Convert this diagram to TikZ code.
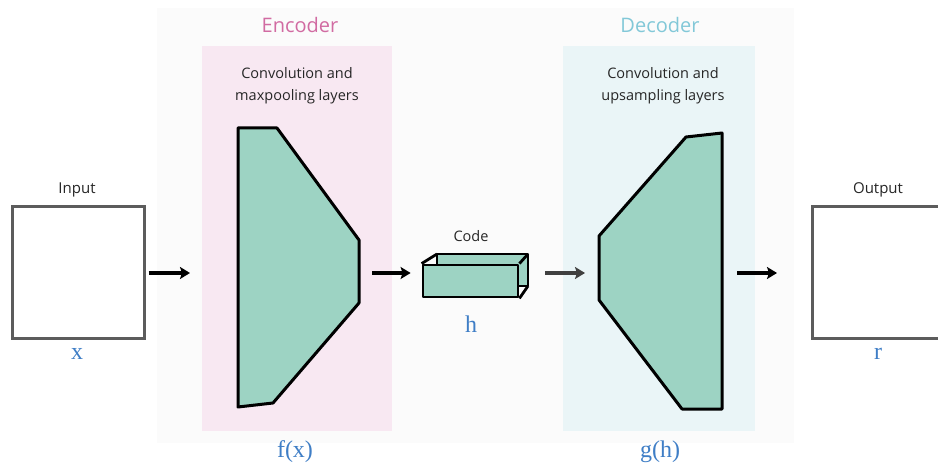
\documentclass[tikz,border=0pt]{standalone}
\usepackage{fontspec}
\setsansfont{Open Sans}
\newfontfamily\varfont{Liberation Serif}
\usetikzlibrary{arrows.meta,positioning}
\definecolor{layerfill}{HTML}{9DD3C3}
\definecolor{encbg}{HTML}{F8E8F2}
\definecolor{decbg}{HTML}{EAF5F7}
\definecolor{outerbg}{HTML}{FBFBFB}
\definecolor{enccol}{HTML}{D16BA2}
\definecolor{deccol}{HTML}{82C8D8}
\definecolor{varblue}{HTML}{3F7EC6}
\definecolor{boxgray}{HTML}{5C5C5C}

\begin{document}
\begin{tikzpicture}[x=1pt, y=-1pt, >=Stealth,
    lbl/.style={font=\sffamily\fontsize{14.5}{22}\selectfont, text=black!85, align=center},
    head/.style={font=\sffamily\fontsize{20}{24}\selectfont},
    var/.style={font=\varfont\fontsize{24}{26}\selectfont, text=varblue},
    imgbox/.style={draw=boxgray, line width=3pt, minimum width=132pt, minimum height=132pt, inner sep=0pt},
    layer/.style={draw=black, line width=3pt, fill=layerfill, line join=round},
    flow/.style={-{Stealth[length=10pt, width=12pt, inset=2pt]}, line width=3.4pt}]
    \useasboundingbox (0,0) rectangle (938,465);
    \clip (0,0) rectangle (938,465);
    % backgrounds
    \fill[white] (0,0) rectangle (938,465);
    \fill[outerbg] (157,8) rectangle (794,443);
    \fill[encbg] (202,46) rectangle (392,431);
    \fill[decbg] (563,46) rectangle (755,431);
    % titles
    \node[head, text=enccol] (enc-title) at (300,25) {Encoder};
    \node[head, text=deccol] (dec-title) at (660,25) {Decoder};
    \node[lbl] (enc-text) at (297,86) {Convolution and\\maxpooling layers};
    \node[lbl] (dec-text) at (663,86) {Convolution and\\upsampling layers};
    % input and output
    \node[imgbox] (in) at (78,273) {};
    \node[imgbox] (out) at (878,273) {};
    \node[lbl, font=\sffamily\fontsize{15}{18}\selectfont] (in-lbl) at (77,190) {Input};
    \node[lbl, font=\sffamily\fontsize{15}{18}\selectfont] (out-lbl) at (878,190) {Output};
    \node[var] (x-lbl) at (77,354) {x};
    \node[var] (r-lbl) at (878,354) {r};
    % encoder and decoder layers
    \draw[layer] (238,128) -- (277,128) -- (359,240) -- (359,303) -- (273,403) -- (238,407) -- cycle;
    \draw[layer] (722,133) -- (686,137) -- (599,236) -- (599,300) -- (682,409) -- (722,409) -- cycle;
    \node[var] (f-lbl) at (295,452) {f(x)};
    \node[var] (g-lbl) at (660,452) {g(h)};
    % code
    \draw[layer, line width=2.8pt] (437,254) rectangle (528,286);
    \node[layer, line width=2.8pt, minimum width=95pt, minimum height=32pt, inner sep=0pt] (code) at (470.5,281) {};
    \draw[line width=2.8pt] (code.north west) -- (437,254)
      (code.north east) -- (528,254)
      (code.south east) -- (528,286);
    \node[lbl] (code-lbl) at (471,236) {Code};
    \node[var] (h-lbl) at (471,324) {h};
    % connectors
    \coordinate (enc-in) at (190,273);
    \coordinate (enc-out) at (372,273);
    \coordinate (code-out) at (545,273);
    \coordinate (dec-in) at (585,273);
    \coordinate (dec-out) at (737,273);
    \coordinate (out-in) at (777,273);
    \draw[flow, shorten <=3pt] (in.east |- enc-in) -- (enc-in);
    \draw[flow] (enc-out) -- ([xshift=-11pt]code.west |- enc-out);
    \draw[flow, draw=black!75] (code-out) -- (dec-in);
    \draw[flow] (dec-out) -- (out-in);
\end{tikzpicture}
\end{document}
